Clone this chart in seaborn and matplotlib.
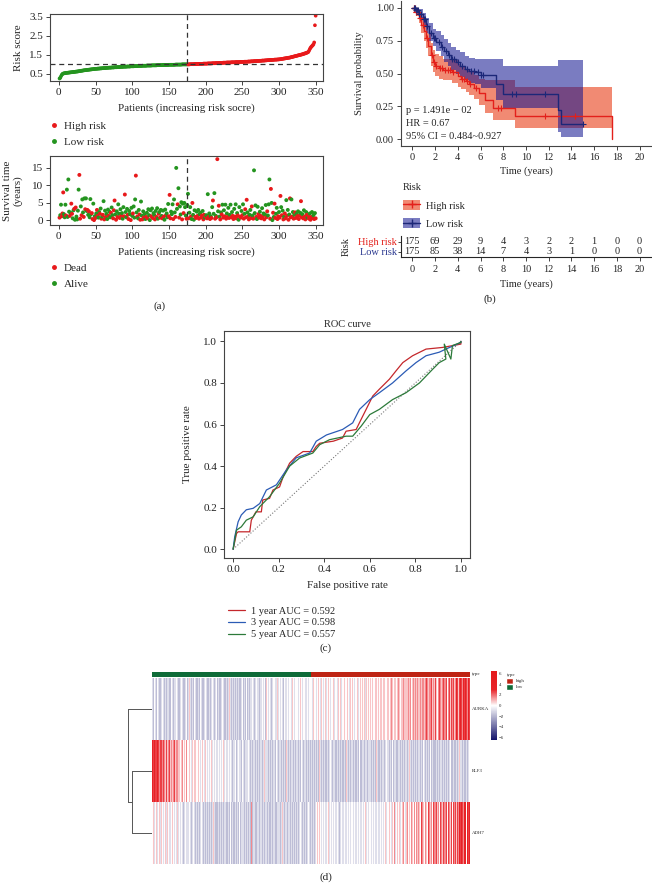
import numpy as np
import pandas as pd
import matplotlib
matplotlib.use("Agg")
import matplotlib.pyplot as plt
import seaborn as sns
from matplotlib.colors import LinearSegmentedColormap, ListedColormap
from matplotlib.lines import Line2D
from matplotlib.patches import Patch

# ---------------- data ----------------
# (a) sorted risk score for the 350 patients
risk_score = np.array("""
0.26 0.30 0.38 0.45 0.50 0.52 0.53 0.54 0.55 0.55
0.56 0.56 0.57 0.57 0.58 0.58 0.59 0.59 0.60 0.60
0.61 0.61 0.62 0.62 0.63 0.63 0.64 0.65 0.65 0.66
0.67 0.67 0.68 0.69 0.69 0.70 0.70 0.71 0.71 0.72
0.72 0.73 0.73 0.74 0.74 0.75 0.75 0.76 0.76 0.77
0.77 0.77 0.78 0.78 0.78 0.79 0.79 0.79 0.80 0.80
0.80 0.81 0.81 0.81 0.82 0.82 0.82 0.83 0.83 0.83
0.83 0.84 0.84 0.84 0.84 0.85 0.85 0.85 0.85 0.86
0.86 0.86 0.86 0.87 0.87 0.87 0.87 0.88 0.88 0.88
0.88 0.88 0.89 0.89 0.89 0.89 0.89 0.90 0.90 0.90
0.90 0.90 0.91 0.91 0.91 0.91 0.91 0.92 0.92 0.92
0.92 0.92 0.92 0.93 0.93 0.93 0.93 0.93 0.93 0.94
0.94 0.94 0.94 0.94 0.94 0.94 0.95 0.95 0.95 0.95
0.95 0.95 0.95 0.96 0.96 0.96 0.96 0.96 0.96 0.96
0.96 0.97 0.97 0.97 0.97 0.97 0.97 0.97 0.97 0.98
0.98 0.98 0.98 0.98 0.98 0.98 0.98 0.98 0.99 0.99
0.99 0.99 0.99 0.99 0.99 0.99 0.99 1.00 1.00 1.00
1.00 1.00 1.00 1.00 1.00 1.00 1.00 1.00 1.01 1.01
1.01 1.01 1.01 1.01 1.02 1.02 1.02 1.02 1.02 1.02
1.03 1.03 1.03 1.03 1.03 1.03 1.04 1.04 1.04 1.04
1.04 1.04 1.05 1.05 1.05 1.05 1.05 1.05 1.06 1.06
1.06 1.06 1.06 1.07 1.07 1.07 1.07 1.07 1.08 1.08
1.08 1.08 1.08 1.09 1.09 1.09 1.09 1.09 1.10 1.10
1.10 1.10 1.10 1.10 1.11 1.11 1.11 1.11 1.11 1.11
1.12 1.12 1.12 1.12 1.12 1.12 1.13 1.13 1.13 1.13
1.13 1.13 1.14 1.14 1.14 1.14 1.14 1.15 1.15 1.15
1.15 1.16 1.16 1.16 1.16 1.17 1.17 1.17 1.17 1.18
1.18 1.18 1.18 1.19 1.19 1.19 1.20 1.20 1.20 1.20
1.21 1.21 1.21 1.22 1.22 1.22 1.23 1.23 1.23 1.23
1.24 1.24 1.24 1.25 1.25 1.25 1.25 1.26 1.26 1.26
1.27 1.27 1.28 1.29 1.29 1.30 1.31 1.31 1.32 1.33
1.33 1.34 1.35 1.35 1.36 1.37 1.38 1.39 1.40 1.41
1.42 1.43 1.44 1.45 1.46 1.47 1.48 1.49 1.50 1.51
1.52 1.53 1.54 1.56 1.57 1.58 1.60 1.61 1.63 1.65
1.72 1.80 1.87 1.92 1.96 2.00 2.05 2.15 3.05 3.55
""".split(), dtype=float)
n_low = 175

# (a) survival time (years) and status (1 = dead, 0 = alive) in the same order
surv_time = np.array("""
0.8 1.5 4.5 1.2 2.0 8.0 1.8 0.9 4.5 1.4 8.8 1.0 11.7 2.5 1.3 2.2 4.8 1.9 0.6 2.9 3.3 0.2 3.7 1.1 0.3
2.8 8.8 13.0 0.5 4.0 1.5 6.0 2.3 1.0 6.3 3.2 6.3 2.7 3.0 1.6 2.6 0.9 6.1 1.8 2.1 0.4 4.8 0.1 1.2 0.7
2.0 3.0 1.3 0.8 2.4 1.9 3.4 0.5 1.1 1.6 5.5 0.3 2.8 1.0 1.9 0.4 3.1 1.3 2.5 0.9 2.2 3.7 1.5 0.6 2.9
5.7 1.7 0.2 2.6 1.0 4.6 1.9 0.7 3.2 1.4 2.1 0.5 3.8 1.2 7.4 2.4 0.9 3.3 1.6 0.4 2.7 1.8 0.1 3.6 1.3
2.0 4.0 0.8 6.0 12.8 2.3 1.1 0.6 3.0 1.7 0.2 5.4 1.4 0.3 2.6 0.9 1.8 0.4 1.0 2.2 0.6 3.2 1.5 0.1 2.9
1.2 3.4 0.7 2.1 1.6 0.3 2.7 1.0 3.5 0.5 1.9 2.4 0.8 3.0 1.3 0.6 2.8 1.1 0.2 3.1 1.5 2.0 0.9 4.7 1.2
7.3 0.6 2.5 1.8 4.6 0.4 6.0 2.3 1.0 15.0 3.3 4.6 9.2 0.8 4.0 1.7 5.2 0.3 4.8 2.1 5.0 3.8 1.4 0.5 4.4
7.6 0.6 2.2 3.8 1.1 0.4 5.0 1.6 0.2 2.9 1.0 0.7 2.5 1.3 3.0 0.5 1.8 2.2 0.9 1.4 2.7 0.3 1.6 0.8 1.2
1.5 0.6 7.5 1.0 2.0 0.4 1.2 0.7 3.8 5.7 1.9 7.8 0.5 1.3 0.9 17.5 2.6 4.2 1.1 0.3 2.3 1.7 4.5 0.8 2.9
1.2 4.5 0.5 2.0 1.0 3.6 0.7 1.6 4.5 0.9 2.4 1.3 0.4 3.3 1.1 4.6 0.6 2.1 1.4 0.2 3.8 1.0 0.8 2.7 1.5
4.6 0.5 1.9 3.2 0.9 5.9 2.3 1.2 0.3 1.6 3.0 0.7 4.0 1.4 0.5 14.3 2.1 4.3 1.0 0.4 3.9 1.8 0.8 2.5 1.3
0.6 3.5 1.1 2.0 0.3 1.7 4.4 0.9 2.6 1.4 4.6 11.7 0.5 9.0 5.0 0.1 2.2 1.0 4.8 0.7 1.9 3.6 0.4 1.2 2.4
0.8 7.0 3.8 1.5 2.8 0.3 1.0 2.0 0.6 5.8 1.3 3.0 0.2 1.7 6.3 0.9 6.0 1.1 2.4 0.5 1.6 2.3 0.7 1.9 1.2
2.6 0.4 1.4 2.2 5.5 0.9 1.8 0.6 2.9 1.1 0.3 2.4 1.6 0.8 1.3 0.5 2.0 0.2 1.0 2.4 0.7 1.5 0.4 2.1 0.6
""".split(), dtype=float)
surv_status = """
10011 10001 00001 01100 10100  00110 10010 10010 10001 10101
01100 10101 01010 00100 10011  10101 00101 00011 00011 00100
10001 01001 10010 10010 10000  10100 10100 10100 10100 10001
11000 10010 01010 00101 00010  01001 01000 11010 10011 01101
01010 10101 00101 10101 01010  10101 01001 01101 01010 01101
01011 10110 01101 00010 01101  10101 00110 00110 01011 00110
11010 10110 10101 10101 01101  01101 10101 10101 10110 10101
"""

# (b) Kaplan-Meier estimates with 95% CI
km_high_t = [0, 0.3, 0.6, 0.8, 1.0, 1.2, 1.4, 1.6, 1.8, 2.0, 2.3, 2.7, 3.5, 4.0, 4.3,
             4.7, 5.0, 5.4, 5.9, 6.4, 7.07, 9.05, 17.6]
km_high_s = [1.0, 0.97, 0.92, 0.87, 0.82, 0.77, 0.71, 0.64, 0.59, 0.56, 0.54, 0.525, 0.51, 0.48, 0.46,
             0.44, 0.42, 0.39, 0.35, 0.30, 0.24, 0.18, 0.0]
km_high_lo = [1.0, 0.94, 0.88, 0.81, 0.75, 0.69, 0.63, 0.56, 0.51, 0.48, 0.46, 0.45, 0.43, 0.40, 0.38,
              0.36, 0.34, 0.31, 0.26, 0.20, 0.145, 0.085, 0.085]
km_high_hi = [1.0, 1.0, 0.97, 0.93, 0.89, 0.85, 0.80, 0.73, 0.68, 0.65, 0.63, 0.61, 0.60, 0.57, 0.55,
              0.53, 0.51, 0.49, 0.46, 0.45, 0.45, 0.40, 0.40]
km_high_cens = [0.1, 0.15, 0.2, 0.3, 0.35, 0.5, 0.7, 0.9, 1.3, 1.7, 1.9, 2.1, 2.4, 2.6, 2.9, 3.1,
                3.3, 3.6, 4.4, 4.5, 4.8, 5.1, 5.6, 7.5, 7.8, 11.7, 14.3]

km_low_t = [0, 0.3, 0.6, 0.9, 1.2, 1.5, 1.8, 2.1, 2.5, 2.8, 3.1, 3.4, 3.8, 4.2, 4.6,
            5.0, 5.5, 6.0, 7.37, 7.95, 12.85, 13.07, 15.0]
km_low_s = [1.0, 0.98, 0.95, 0.91, 0.86, 0.81, 0.77, 0.74, 0.70, 0.67, 0.64, 0.61, 0.59, 0.56, 0.535,
            0.52, 0.51, 0.485, 0.42, 0.347, 0.22, 0.115, 0.115]
km_low_lo = [1.0, 0.96, 0.92, 0.87, 0.81, 0.75, 0.71, 0.67, 0.63, 0.59, 0.56, 0.53, 0.50, 0.47, 0.45,
             0.43, 0.42, 0.39, 0.30, 0.24, 0.06, 0.02, 0.02]
km_low_hi = [1.0, 1.0, 0.99, 0.96, 0.92, 0.88, 0.84, 0.82, 0.79, 0.76, 0.73, 0.70, 0.68, 0.66, 0.63,
             0.62, 0.61, 0.61, 0.61, 0.56, 0.605, 0.605, 0.605]
km_low_cens = [0.1, 0.2, 0.3, 0.4, 0.5, 0.6, 0.8, 1.0, 1.1, 1.3, 1.6, 1.9, 2.0, 2.3, 2.6, 3.0,
               3.2, 3.5, 3.7, 4.0, 4.4, 4.8, 5.2, 5.4, 5.8, 6.0, 6.2, 8.8, 9.1, 11.7, 15.0]

km_stats = ["p = 1.491e \u2212 02", "HR = 0.67", "95% CI = 0.484~0.927"]
table_times = [0, 2, 4, 6, 8, 10, 12, 14, 16, 18, 20]
at_risk_high = [175, 69, 29, 9, 4, 3, 2, 2, 1, 0, 0]
at_risk_low = [175, 85, 38, 14, 7, 4, 3, 1, 0, 0, 0]

# (c) ROC curves
roc1_fpr = [0, 0.015, 0.022, 0.073, 0.08, 0.10, 0.124, 0.13, 0.16, 0.175, 0.204, 0.22, 0.248, 0.277,
            0.307, 0.35, 0.365, 0.38, 0.44, 0.48, 0.496, 0.54, 0.562, 0.584, 0.613, 0.642, 0.686,
            0.715, 0.745, 0.788, 0.847, 0.92, 1.0, 1.0]
roc1_tpr = [0, 0.076, 0.084, 0.084, 0.14, 0.18, 0.18, 0.237, 0.245, 0.285, 0.30, 0.35, 0.414, 0.447,
            0.47, 0.47, 0.495, 0.51, 0.52, 0.535, 0.568, 0.576, 0.625, 0.673, 0.737, 0.77, 0.818,
            0.858, 0.898, 0.931, 0.963, 0.971, 0.987, 1.0]
roc3_fpr = [0, 0.007, 0.022, 0.036, 0.058, 0.088, 0.117, 0.146, 0.19, 0.234, 0.277, 0.336, 0.365,
            0.41, 0.48, 0.525, 0.555, 0.60, 0.642, 0.70, 0.759, 0.803, 0.847, 0.905, 0.934, 1.0, 1.0]
roc3_tpr = [0, 0.06, 0.132, 0.165, 0.19, 0.197, 0.22, 0.285, 0.31, 0.382, 0.44, 0.463, 0.52,
            0.55, 0.576, 0.608, 0.673, 0.72, 0.753, 0.80, 0.858, 0.898, 0.931, 0.948, 0.963, 0.995, 1.0]
roc5_fpr = [0, 0.015, 0.036, 0.058, 0.088, 0.117, 0.16, 0.204, 0.248, 0.292, 0.35, 0.38, 0.423,
            0.496, 0.525, 0.562, 0.60, 0.642, 0.70, 0.759, 0.818, 0.876, 0.905, 0.934, 0.927,
            0.956, 0.963, 1.0, 1.0]
roc5_tpr = [0, 0.092, 0.108, 0.14, 0.156, 0.205, 0.253, 0.318, 0.40, 0.439, 0.463, 0.503, 0.527,
            0.544, 0.544, 0.592, 0.648, 0.673, 0.72, 0.753, 0.80, 0.866, 0.898, 0.915, 0.987,
            0.915, 0.98, 0.995, 1.0]
roc_labels = ["1 year AUC = 0.592", "3 year AUC = 0.598", "5 year AUC = 0.557"]

# (d) heatmap, expression level per patient, coded by letter (see level_values)
gene_names = ["AURKA", "ELF3", "ADH7"]
level_values = {"a": -3.0, "b": -1.8, "c": -0.9, "d": 0.0, "e": 0.8, "f": 1.6, "g": 2.6, "h": 4.0}
aurka_levels = """
cbdcbcdcbb cdcbcbdccb bdcbccdbcb bcdcbbcdbb cecbcbdcbc bcbdcbbcdc cbbcbcdcbc
dcbcbbcdcb bcdbcecbcb cbdcbcbbcd bcbcdbcbcc dcbcbdccbc cdcdbcedcd cbcddcdcec
dcdcbdcdcd cddcedcdcd dcdedcddcd cdcdddcedd dcdedcedcd edcdedcdde cdedcedecd
dedcdedced edcdedecde dedecdeded ededdedede deedeedede edefedeeed efedeefede
eefefdefef fefeefeffe efgfeffgef efgedfgfef gfefgdfgeg fgegfhgegh gfhgehgfhg
"""
elf3_levels = """
hghggfhgfg gfgfegfefg efefgefdfe edefdedfed dedcedeedc dedcdedced dcdcdecdcd
cdcdcdcdec dcbcdcdcbc cdcbcdccbd cbcbccdcbc bccbdcbcbc cbcecbccbc bcbccbcdcb
ccbcbcbcec bcbccbcbcc cbcbdcbccb bcbcbcbcbc cbcbecbcbc bcbcbcdcbc cbcbcbcbcb
bcbcecbcbc cbcbcbcbdb bccbcbcbcc cbcbcbcecb bcbccbcbdc cbcbdbcbcb bccbcbcbcc
cbcecbcbcb bcbccbcbdc cbcbcbdbcb bcbcbcbccb cbccbcbcdb bcbcbcbcec cbcbcbcbcd
"""
adh7_levels = """
decdedcdec edcdecdedc cdedcdcdec dcdcbcdcdc cdcbcdcbcd bcbcdcbcbc cbcbcbcecb
bcbcbcbcbc cbcbcbdbcb bccbcbdbcc cbccbcbcbf bccbcbccbc cbcbcdcbcb bcbccbcbcc
cbcecbcbcb ccbcbcbccb cbcdcbcbcd bcdcbcbcbc edededcdcd cdcdecdcdc dcdcdcbcdc
cdcbcdcdcd dcdcdcdcdc cdcdedcdcd dcdcdcdcdc cdcdcdedcd dedcedfdcd edecdefdec
efdedfedfe dfefedgfed efedgfefdg fefgefdgfe gfefgdgfeg dgfhgegfhg hgfhghdhgh
"""
# hierarchical clustering of rows: ELF3+ADH7 merge first, then AURKA
dendro_heights = [20.0, 24.0]

# ---------------- style ----------------
sns.set_style("ticks")
plt.rcParams["font.family"] = ["Liberation Serif", "DejaVu Serif"]
plt.rcParams["axes.linewidth"] = 0.8

RED = "#E8191B"
GREEN = "#24941F"
KM_RED, KM_BLUE = "#E3201B", "#1C2778"
BAND_RED, BAND_BLUE = "#E62B00", "#0D118F"
TYPE_RED, TYPE_GREEN = "#BE2414", "#0E6B38"

W, H = 652, 883
fig = plt.figure(figsize=(W / 100, H / 100), dpi=100)


def px_axes(x0, y0, x1, y1):
    return fig.add_axes([x0 / W, 1 - y1 / H, (x1 - x0) / W, (y1 - y0) / H])


def fig_text(x, y, s, **kw):
    fig.text(x / W, 1 - y / H, s, **kw)


def style_box(ax, size=8):
    for sp in ax.spines.values():
        sp.set_color("#444444")
    ax.tick_params(labelsize=size, length=3, width=0.6, pad=2, colors="#222222")


patients = np.arange(1, len(risk_score) + 1)

# ---------------- (a) risk score ----------------
df_risk = pd.DataFrame({
    "patient": patients,
    "score": risk_score,
    "group": np.where(patients <= n_low, "Low risk", "High risk"),
})
ax = px_axes(50, 14, 323, 81)
sns.scatterplot(data=df_risk, x="patient", y="score", hue="group",
                palette={"High risk": RED, "Low risk": GREEN},
                s=7, linewidth=0, legend=False, ax=ax)
ax.axhline(np.median(risk_score), color="#333333", ls="--", lw=0.9, dashes=(4, 3))
ax.axvline(n_low, color="#333333", ls="--", lw=0.9, dashes=(4, 3))
ax.set_xlim(-12, 360)
ax.set_ylim(0.13, 3.64)
ax.set_xticks(np.arange(0, 351, 50))
ax.set_yticks([0.5, 1.5, 2.5, 3.5])
ax.set_xlabel("Patients (increasing risk socre)", fontsize=8)
ax.set_ylabel("Risk score", fontsize=8)
ax.xaxis.set_label_coords(0.5, -0.33)
ax.yaxis.set_label_coords(-0.1, 0.5)
style_box(ax)
ax.legend(handles=[Line2D([], [], ls="none", marker="o", ms=2.5, color=RED),
                   Line2D([], [], ls="none", marker="o", ms=2.5, color=GREEN)],
          labels=["High risk", "Low risk"], loc="upper left",
          bbox_to_anchor=(44 / W, 1 - 116 / H), bbox_transform=fig.transFigure,
          frameon=False, fontsize=8, handlelength=0.8, handletextpad=0.5,
          labelspacing=0.5, borderpad=0)

# ---------------- (a) survival status ----------------
status = np.array([int(c) for c in "".join(surv_status.split())])
df_surv = pd.DataFrame({
    "patient": patients,
    "time": surv_time,
    "status": np.where(status == 1, "Dead", "Alive"),
})
ax = px_axes(50, 156, 323, 225)
sns.scatterplot(data=df_surv, x="patient", y="time", hue="status",
                palette={"Dead": RED, "Alive": GREEN},
                s=8, linewidth=0, legend=False, ax=ax)
ax.axvline(n_low, color="#333333", ls="--", lw=0.9, dashes=(4, 3))
ax.set_xlim(-12, 360)
ax.set_ylim(-1.3, 18.4)
ax.set_xticks(np.arange(0, 351, 50))
ax.set_yticks([0, 5, 10, 15])
ax.set_xlabel("Patients (increasing risk socre)", fontsize=8)
ax.set_ylabel("Survival time\n(years)", fontsize=8, multialignment="center", linespacing=1.1)
ax.xaxis.set_label_coords(0.5, -0.33)
ax.yaxis.set_label_coords(-0.1, 0.5)
style_box(ax)
ax.legend(handles=[Line2D([], [], ls="none", marker="o", ms=2.5, color=RED),
                   Line2D([], [], ls="none", marker="o", ms=2.5, color=GREEN)],
          labels=["Dead", "Alive"], loc="upper left",
          bbox_to_anchor=(44 / W, 1 - 258 / H), bbox_transform=fig.transFigure,
          frameon=False, fontsize=8, handlelength=0.8, handletextpad=0.5,
          labelspacing=0.5, borderpad=0)
fig_text(160, 306, "(a)", ha="center", va="center", fontsize=8)

# ---------------- (b) Kaplan-Meier ----------------
def step_value(t_knots, s_knots, times):
    idx = np.searchsorted(t_knots, times, side="right") - 1
    return np.asarray(s_knots)[idx]


ax = px_axes(401, 1, 651, 146)
ax.fill_between(km_high_t, km_high_lo, km_high_hi, step="post", color=BAND_RED, alpha=0.55, lw=0)
ax.fill_between(km_low_t, km_low_lo, km_low_hi, step="post", color=BAND_BLUE, alpha=0.55, lw=0)
ax.step(km_high_t, km_high_s, where="post", color=KM_RED, lw=1.0)
ax.step(km_low_t, km_low_s, where="post", color=KM_BLUE, lw=1.0)
ax.plot(km_high_cens, step_value(km_high_t, km_high_s, km_high_cens), ls="none",
        marker="+", ms=4.5, mew=0.8, color=KM_RED)
ax.plot(km_low_cens, step_value(km_low_t, km_low_s, km_low_cens), ls="none",
        marker="+", ms=4.5, mew=0.8, color=KM_BLUE)
for i, line in enumerate(km_stats):
    ax.text(-0.6, 0.22 - i * 0.1, line, fontsize=7.5, va="center", ha="left")
ax.set_xlim(-1, 21)
ax.set_ylim(-0.05, 1.05)
ax.set_xticks(table_times)
ax.set_yticks([0, 0.25, 0.5, 0.75, 1.0])
ax.set_yticklabels(["0.00", "0.25", "0.50", "0.75", "1.00"])
ax.set_xlabel("Time (years)", fontsize=7.5)
ax.set_ylabel("Survival probability", fontsize=7.5)
ax.xaxis.set_label_coords(0.5, -0.14)
ax.yaxis.set_label_coords(-0.15, 0.5)
sns.despine(ax=ax)
style_box(ax, 7.5)
high_handle = (Patch(facecolor=BAND_RED, alpha=0.55, lw=0), Line2D([], [], color=KM_RED, marker="+", lw=1))
low_handle = (Patch(facecolor=BAND_BLUE, alpha=0.55, lw=0), Line2D([], [], color=KM_BLUE, marker="+", lw=1))
ax.legend(handles=[high_handle, low_handle], labels=["High risk", "Low risk"], title="Risk",
          loc="upper left", bbox_to_anchor=(398 / W, 1 - 178 / H), bbox_transform=fig.transFigure,
          frameon=False, fontsize=7.5, title_fontsize=7.5, alignment="left",
          handlelength=1.6, handleheight=1.1, labelspacing=0.75, borderpad=0, handletextpad=0.6)

# risk table
ax = px_axes(401, 236, 651, 257)
for t, nh, nl in zip(table_times, at_risk_high, at_risk_low):
    ax.text(t, 1, str(nh), ha="center", va="center", fontsize=7.5)
    ax.text(t, 0, str(nl), ha="center", va="center", fontsize=7.5)
ax.set_xlim(-1, 21)
ax.set_ylim(-0.55, 1.55)
ax.set_xticks(table_times)
ax.set_yticks([1, 0])
ax.set_yticklabels(["High risk", "Low risk"], fontsize=7.5)
ax.get_yticklabels()[0].set_color(KM_RED)
ax.get_yticklabels()[1].set_color("#2B3990")
sns.despine(ax=ax)
ax.tick_params(axis="x", labelsize=7.5, length=3, width=0.6, pad=3)
ax.tick_params(axis="y", length=2, width=0.6, pad=1)
ax.set_xlabel("Time (years)", fontsize=7.5)
ax.set_ylabel("Risk", fontsize=7.5)
ax.xaxis.set_label_coords(0.5, -1.05)
ax.yaxis.set_label_coords(-0.2, 0.5)
fig_text(490, 299, "(b)", ha="center", va="center", fontsize=8)

# ---------------- (c) ROC ----------------
ax = px_axes(224, 331, 470, 558)
ax.plot([0, 1], [0, 1], ls=":", color="#777777", lw=0.8)
roc_colors = ["#C4272B", "#2B5BB5", "#2C7A3A"]
for fpr, tpr, col, lab in zip([roc1_fpr, roc3_fpr, roc5_fpr], [roc1_tpr, roc3_tpr, roc5_tpr],
                              roc_colors, roc_labels):
    sns.lineplot(x=fpr, y=tpr, sort=False, estimator=None, color=col, lw=0.9, label=lab, ax=ax)
ax.set_xlim(-0.04, 1.04)
ax.set_ylim(-0.042, 1.05)
ax.set_xticks(np.arange(0, 1.01, 0.2))
ax.set_yticks(np.arange(0, 1.01, 0.2))
ax.set_xlabel("False positive rate", fontsize=8)
ax.set_ylabel("True positive rate", fontsize=8)
ax.set_title("ROC curve", fontsize=7.5, pad=3)
ax.xaxis.set_label_coords(0.5, -0.1)
ax.yaxis.set_label_coords(-0.13, 0.5)
style_box(ax, 8)
ax.legend(loc="upper left", bbox_to_anchor=(223 / W, 1 - 601 / H), bbox_transform=fig.transFigure,
          frameon=False, fontsize=7.5, handlelength=1.6, handletextpad=0.6, labelspacing=0.25,
          borderpad=0)
fig_text(326, 648, "(c)", ha="center", va="center", fontsize=8)

# ---------------- (d) heatmap ----------------
def decode(levels):
    return [level_values[c] for c in "".join(levels.split())]


expr = pd.DataFrame([decode(aurka_levels), decode(elf3_levels), decode(adh7_levels)],
                    index=gene_names)
sample_type = np.where(patients <= n_low, 0, 1)  # 0 = low, 1 = high

heat_cmap = LinearSegmentedColormap.from_list(
    "navy_white_red", [(0, "#13136B"), (0.5, "#FFFFFF"), (0.73, "#E8242A"), (1, "#E41A1C")])

ax_ann = px_axes(152, 672, 470, 677)
sns.heatmap(sample_type[None, :], cmap=ListedColormap([TYPE_GREEN, TYPE_RED]), cbar=False,
            xticklabels=False, yticklabels=False, ax=ax_ann)
fig_text(472, 674.5, "type", ha="left", va="center", fontsize=3.5)

ax_h = px_axes(152, 678, 470, 864)
ax_cb = px_axes(491, 671, 497, 740)
sns.heatmap(expr, cmap=heat_cmap, vmin=-6.5, vmax=6.5, ax=ax_h, cbar_ax=ax_cb,
            xticklabels=False, yticklabels=True,
            cbar_kws={"ticks": [-6, -4, -2, 0, 2, 4, 6]})
ax_h.yaxis.tick_right()
ax_h.tick_params(axis="y", length=0, labelsize=3.5, pad=1.5, labelrotation=0)
ax_cb.tick_params(length=0, labelsize=3.5, pad=1.5)
ax_h.collections[0].colorbar.outline.set_visible(False)

# dendrogram from the merge heights
ax_d = px_axes(126, 678, 152, 864)
h1, h2 = dendro_heights
rows = {name: i + 0.5 for i, name in enumerate(gene_names)}
seg = [
    ([0, h1], [rows["ELF3"]] * 2), ([0, h1], [rows["ADH7"]] * 2),
    ([h1, h1], [rows["ELF3"], rows["ADH7"]]),
    ([0, h2], [rows["AURKA"]] * 2),
    ([h1, h2], [(rows["ELF3"] + rows["ADH7"]) / 2] * 2),
    ([h2, h2], [rows["AURKA"], (rows["ELF3"] + rows["ADH7"]) / 2]),
]
for xs, ys in seg:
    ax_d.plot(xs, ys, color="#555555", lw=0.7)
ax_d.set_xlim(26, 0)
ax_d.set_ylim(3, 0)
ax_d.axis("off")

fig.legend(handles=[Patch(facecolor=TYPE_RED), Patch(facecolor=TYPE_GREEN)], labels=["high", "low"],
           title="type", loc="upper left", bbox_to_anchor=(504 / W, 1 - 671 / H),
           frameon=False, fontsize=3.5, title_fontsize=3.5, alignment="left",
           handlelength=1.4, handleheight=1.4, labelspacing=0.1, borderpad=0, handletextpad=0.5)
fig_text(326, 877, "(d)", ha="center", va="center", fontsize=8)

fig.savefig("out.png", dpi=100)
